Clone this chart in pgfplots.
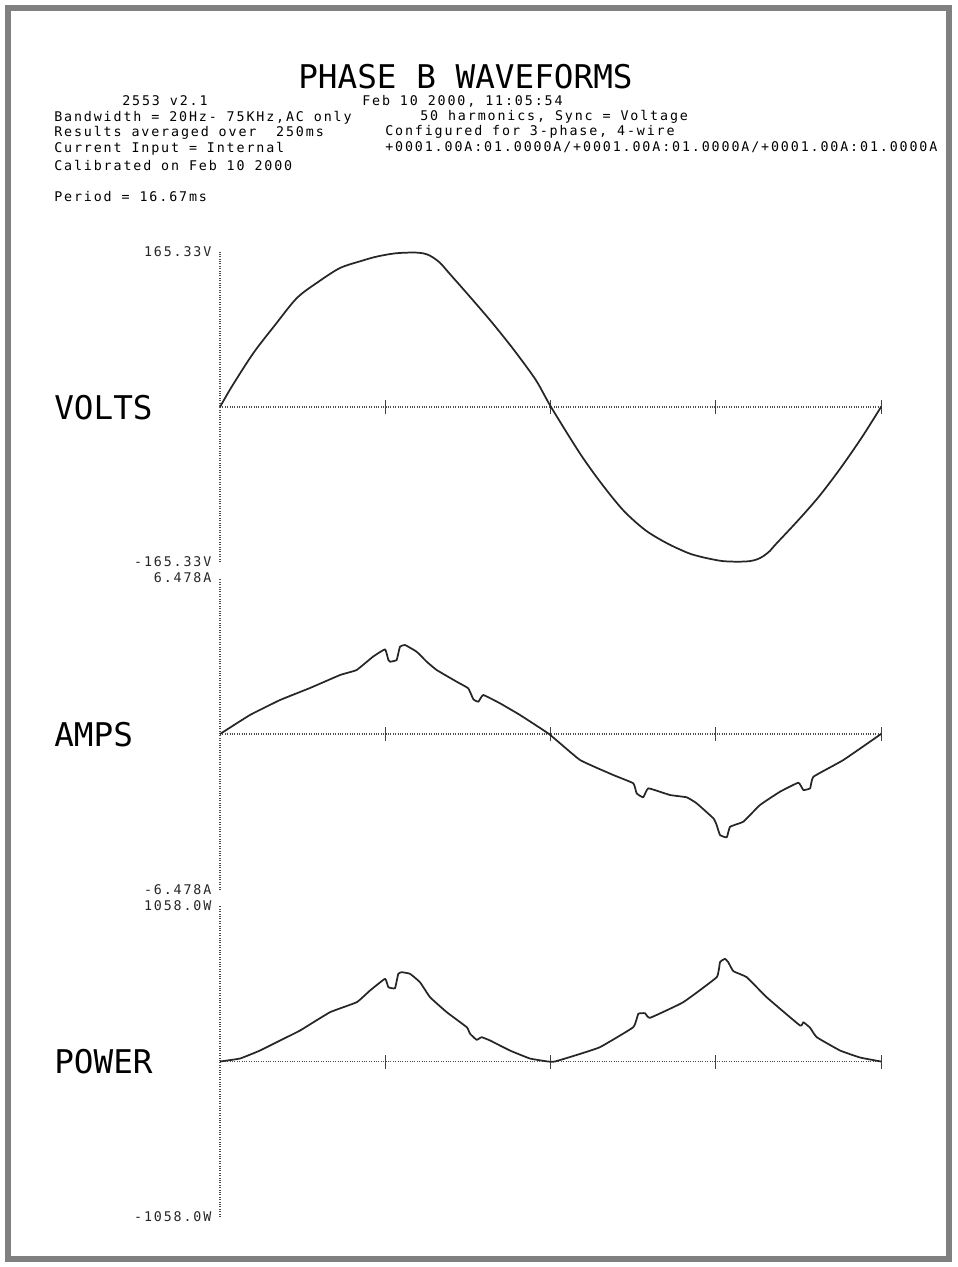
\documentclass[border=0pt]{standalone}
\usepackage{fontspec}
\usepackage{pgfplots}
\usepackage{pgfplotstable}
\pgfplotsset{compat=1.18}
\newfontfamily\pmono[LetterSpace=14]{DejaVu Sans Mono}
\newfontfamily\pbig{DejaVu Sans Mono}
\newcommand\sm{\pmono\fontsize{10pt}{12pt}\selectfont}
\newcommand\bg{\pbig\fontsize{24.5pt}{28pt}\selectfont}

\pgfplotstableread{
x y
0 0
6.4 21.7
18.2 57.6
30.0 87.5
41.9 116.3
53.7 133.7
65.4 148.3
77.3 156.0
84.0 159.8
89.3 162.0
95.0 163.8
101.0 164.6
108.0 164.6
112.5 163.0
116.0 159.5
120.0 153.5
124.7 143.0
136.7 116.3
148.5 89.3
160.1 60.8
172.0 28.8
180.3 0
195.9 -49.1
207.5 -81.0
219.5 -109.9
231.4 -131.0
243.2 -145.1
254.9 -155.7
262.0 -159.8
268.0 -162.4
274.0 -164.4
282.0 -165.0
288.5 -164.4
292.5 -162.5
296.0 -159.0
299.5 -153.5
302.3 -147.2
314.2 -122.3
326.0 -96.0
337.9 -65.4
349.7 -32.0
360 0
}\volts

\pgfplotstableread{
x y
0 0
16.3 0.789
32.7 1.412
49.0 1.910
65.4 2.450
74.4 2.658
83.3 3.210
89.9 3.517
91.7 3.073
92.6 3.002
96.2 3.073
98.0 3.625
100.8 3.696
107.1 3.418
112.6 3.002
118.0 2.658
128.9 2.172
135.2 1.898
138.0 1.441
140.7 1.341
143.4 1.620
152.5 1.275
163.4 0.789
179.2 0
196.1 -1.080
214.2 -1.703
225.1 -2.047
226.9 -2.463
230.5 -2.629
233.3 -2.255
245.1 -2.533
254.2 -2.629
259.6 -2.878
268.7 -3.501
270.5 -3.779
272.3 -4.194
276.0 -4.290
277.8 -3.850
285.0 -3.642
294.1 -2.948
305.0 -2.396
315.0 -2.022
317.7 -2.325
321.4 -2.255
323.2 -1.773
339.5 -1.080
360 0
}\amps

\pgfplotstableread{
x y
0 0
10.9 20.4
21.8 74.8
32.7 142.9
43.6 210.9
59.9 335.4
74.5 403.5
81.7 483.1
89.9 562.7
91.7 505.5
95.3 498.7
97.1 596.7
99.0 607.6
103.5 596.7
108.9 539.6
114.4 437.5
123.5 335.4
134.4 233.4
136.2 188.5
139.8 147.6
142.5 165.3
147.1 142.9
157.9 74.8
168.8 20.4
178.6 0
182.4 0
193.3 40.8
206.9 97.3
225.1 233.4
227.8 324.5
231.5 328.6
234.2 297.3
252.3 403.5
270.5 573.6
272.3 675.6
275.0 698.8
276.8 675.6
279.6 614.4
286.9 573.6
297.7 437.5
315.9 244.9
317.7 267.4
321.4 229.3
325.0 165.3
337.7 74.8
348.6 27.2
360 0
}\power

\pgfplotsset{wave/.style={
  scale only axis, width=495.75pt, xmin=0, xmax=360,
  axis x line=middle, axis y line=left,
  axis line style={-, densely dotted, black!70, line width=0.8pt},
  xtick={90,180,270,360}, xticklabel=\empty,
  major tick length=10.5pt, tick align=center,
  xtick style={solid, black!75, line width=0.6pt},
  ytick style={draw=none},
  yticklabel style={font=\sm, text=black!85, inner sep=1pt},
  clip=false, anchor=south west,
}}
\tikzset{wv/.style={black!85, line width=1.3pt, line join=round}}

\begin{document}
\begin{tikzpicture}
\begin{scope}[x=0.75pt,y=-0.75pt]
\path[use as bounding box] (0,0) rectangle (957,1267);
\draw[line width=4.5pt, color=black!50] (8,8) rectangle (949,1259);
\node[anchor=west, inner sep=0, font=\bg] at (298,77) {PHASE B WAVEFORMS};
\node[anchor=west, inner sep=0, font=\sm] at (122,101) {2553 v2.1};
\node[anchor=west, inner sep=0, font=\sm] at (362,101) {Feb 10 2000, 11:05:54};
\node[anchor=west, inner sep=0, font=\sm] at (54,118) {Bandwidth = 20Hz- 75KHz,AC only};
\node[anchor=west, inner sep=0, font=\sm] at (54,133) {Results averaged over\ \ 250ms};
\node[anchor=west, inner sep=0, font=\sm] at (54,149) {Current Input = Internal};
\node[anchor=west, inner sep=0, font=\sm] at (54,165) {Calibrated on Feb 10 2000};
\node[anchor=west, inner sep=0, font=\sm] at (54,197) {Period = 16.67ms};
\node[anchor=west, inner sep=0, font=\sm] at (420,117) {50 harmonics, Sync = Voltage};
\node[anchor=west, inner sep=0, font=\sm] at (385,132) {Configured for 3-phase, 4-wire};
\node[anchor=west, inner sep=0, font=\sm] at (385,147) {+0001.00A:01.0000A/+0001.00A:01.0000A/+0001.00A:01.0000A};
\node[anchor=west, inner sep=0, font=\bg] at (54,408) {VOLTS};
\node[anchor=west, inner sep=0, font=\bg] at (54,735) {AMPS};
\node[anchor=west, inner sep=0, font=\bg] at (54,1062) {POWER};
\end{scope}

\begin{axis}[wave, at={(165pt,-421.5pt)}, height=232.5pt,
  ymin=-165.33, ymax=165.33, ytick={-165.33,165.33},
  yticklabels={-165.33V,165.33V}]
\addplot[wv, smooth, tension=0.5] table {\volts};
\end{axis}

\begin{axis}[wave, at={(165pt,-667.5pt)}, height=234pt,
  ymin=-6.478, ymax=6.478, ytick={-6.478,6.478},
  yticklabels={-6.478A,6.478A}]
\addplot[wv, smooth, tension=0.2] table {\amps};
\end{axis}

\begin{axis}[wave, at={(165pt,-912.75pt)}, height=233.25pt,
  ymin=-1058, ymax=1058, ytick={-1058,1058},
  yticklabels={-1058.0W,1058.0W}]
\addplot[wv, smooth, tension=0.2] table {\power};
\end{axis}
\end{tikzpicture}
\end{document}
